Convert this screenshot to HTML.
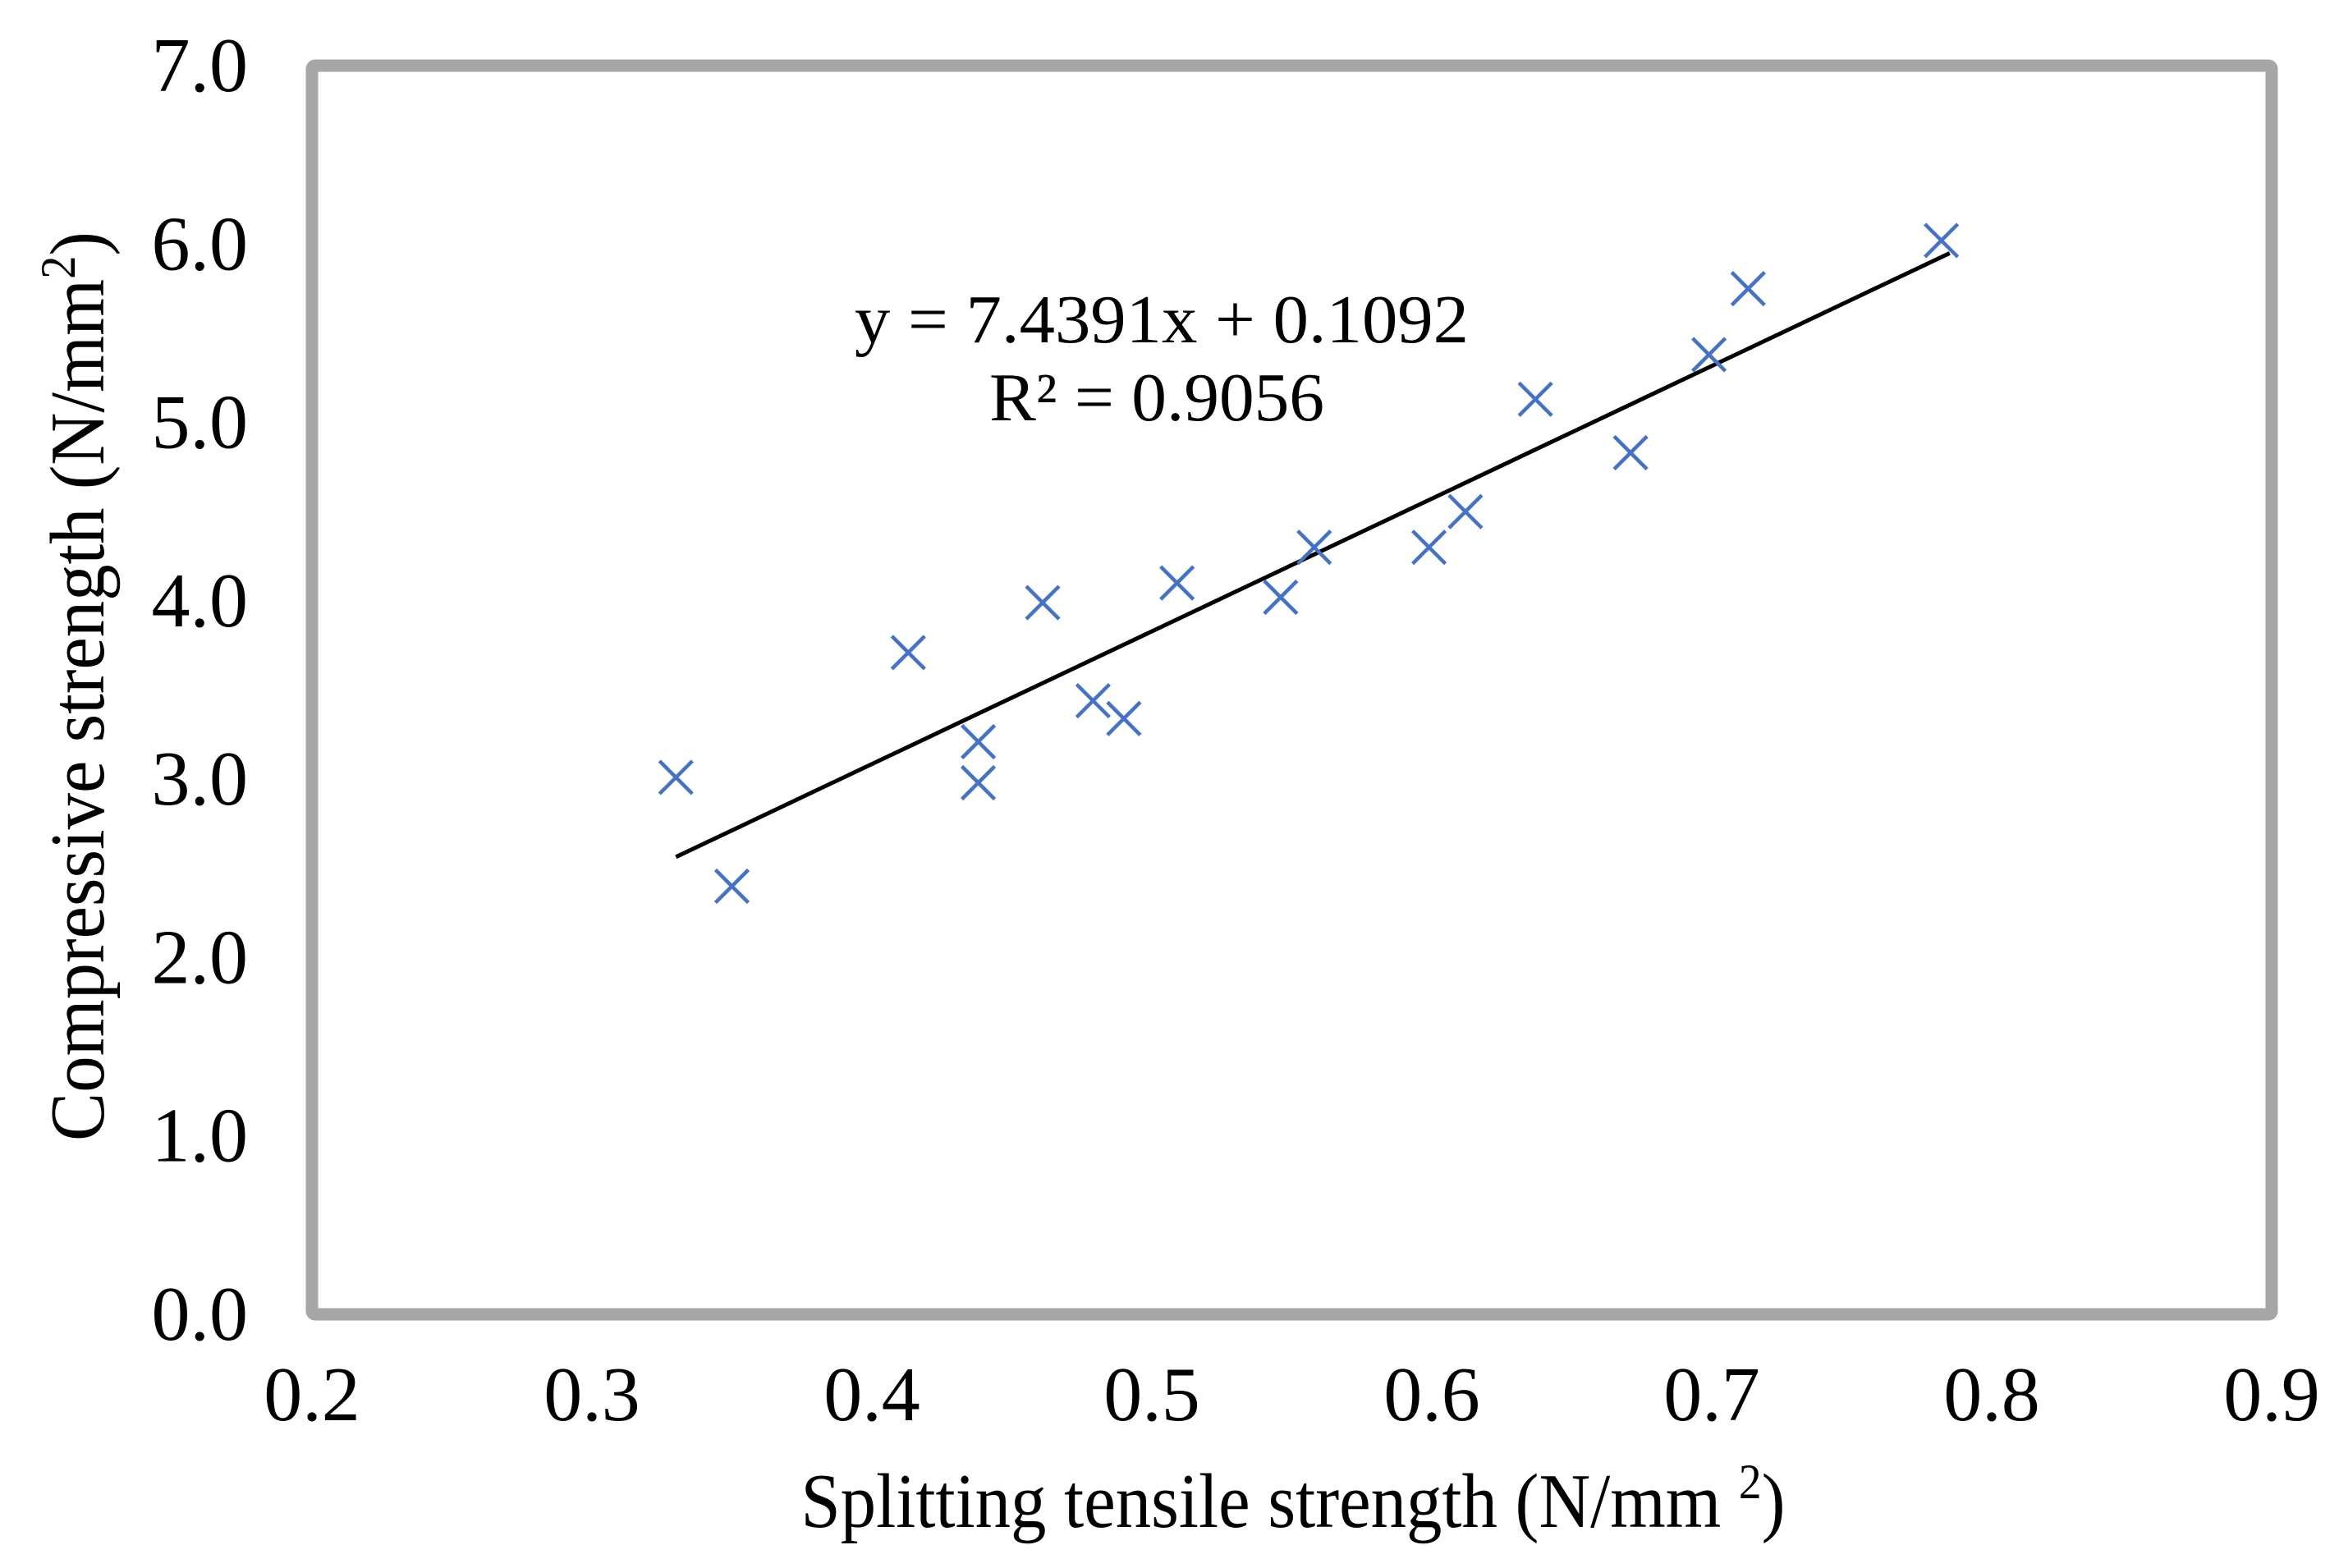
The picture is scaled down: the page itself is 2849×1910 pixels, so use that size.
<!DOCTYPE html>
<html><head><meta charset="utf-8"><style>
html,body{margin:0;padding:0;background:#fff;}
svg{display:block;font-family:"Liberation Serif","Times New Roman",serif;}
</style></head><body>
<svg id="chart" width="2849" height="1910" viewBox="0 0 2849 1910" xmlns="http://www.w3.org/2000/svg">
<rect x="380" y="80" width="2387" height="1521" fill="#fff" stroke="#a6a6a6" stroke-width="15" rx="4"/>
<g id="xticks"></g>
<g id="yticks"></g>
<line id="trend" stroke="#000" stroke-width="5"/>
<g id="pts"></g>
<text x="1415" y="417" font-size="84" text-anchor="middle" textLength="748" lengthAdjust="spacingAndGlyphs">y = 7.4391x + 0.1092</text>
<text x="1409" y="512" font-size="84" text-anchor="middle" textLength="408" lengthAdjust="spacingAndGlyphs">R² = 0.9056</text>
<text x="1575" y="1860" font-size="94" text-anchor="middle" textLength="1199" lengthAdjust="spacingAndGlyphs">Splitting tensile strength (N/mm <tspan font-size="60" dy="-35">2</tspan><tspan dy="35">)</tspan></text>
<text transform="translate(126,836) rotate(-90)" font-size="94" text-anchor="middle" textLength="1108" lengthAdjust="spacingAndGlyphs">Compressive strength (N/mm<tspan font-size="60" dy="-35">2</tspan><tspan dy="35">)</tspan></text>
</svg>
<script>
const xTicks = [0.2,0.3,0.4,0.5,0.6,0.7,0.8,0.9];
const xTickLabels = ["0.2","0.3","0.4","0.5","0.6","0.7","0.8","0.9"];
const yTicks = [0,1,2,3,4,5,6,7];
const yTickLabels = ["0.0","1.0","2.0","3.0","4.0","5.0","6.0","7.0"];
const splitX = [0.33,0.35,0.413,0.438,0.438,0.461,0.479,0.49,0.509,0.546,0.558,0.599,0.612,0.637,0.671,0.699,0.713,0.782];
const compY = [3.01,2.40,3.71,3.21,2.98,3.99,3.44,3.34,4.10,4.02,4.30,4.30,4.50,5.13,4.83,5.38,5.75,6.02];
const trendSlope = 7.4391;
const trendIntercept = 0.1092;
const trendRange = [0.33,0.785];

const NS="http://www.w3.org/2000/svg";
const X0=380,X1=2767,Y0=1601,Y1=80;
function sx(v){return X0+(v-0.2)/(0.9-0.2)*(X1-X0);}
function sy(v){return Y0-(v-0)/(7-0)*(Y0-Y1);}
const xg=document.getElementById('xticks');
xTicks.forEach((t,i)=>{const e=document.createElementNS(NS,'text');


e.setAttribute('x',sx(t));e.setAttribute('y',1730);e.setAttribute('font-size','94');e.setAttribute('text-anchor','middle');
e.textContent=xTickLabels[i];xg.appendChild(e);});
const yg=document.getElementById('yticks');
yTicks.forEach((t,i)=>{const e=document.createElementNS(NS,'text');


e.setAttribute('x',302);e.setAttribute('y',sy(t)+31);e.setAttribute('font-size','94');e.setAttribute('text-anchor','end');
e.textContent=yTickLabels[i];yg.appendChild(e);});
const tl=document.getElementById('trend');
tl.setAttribute('x1',sx(trendRange[0]));tl.setAttribute('y1',sy(trendSlope*trendRange[0]+trendIntercept));
tl.setAttribute('x2',sx(trendRange[1]));tl.setAttribute('y2',sy(trendSlope*trendRange[1]+trendIntercept));
const pg=document.getElementById('pts');
splitX.forEach((v,i)=>{const cx=sx(v),cy=sy(compY[i]),r=20;
const p=document.createElementNS(NS,'path');


p.setAttribute('d',`M${cx-r},${cy-r}L${cx+r},${cy+r}M${cx-r},${cy+r}L${cx+r},${cy-r}`);
p.setAttribute('stroke','#4472c4');p.setAttribute('stroke-width','4.5');p.setAttribute('fill','none');
pg.appendChild(p);});
</script>
</body></html>
